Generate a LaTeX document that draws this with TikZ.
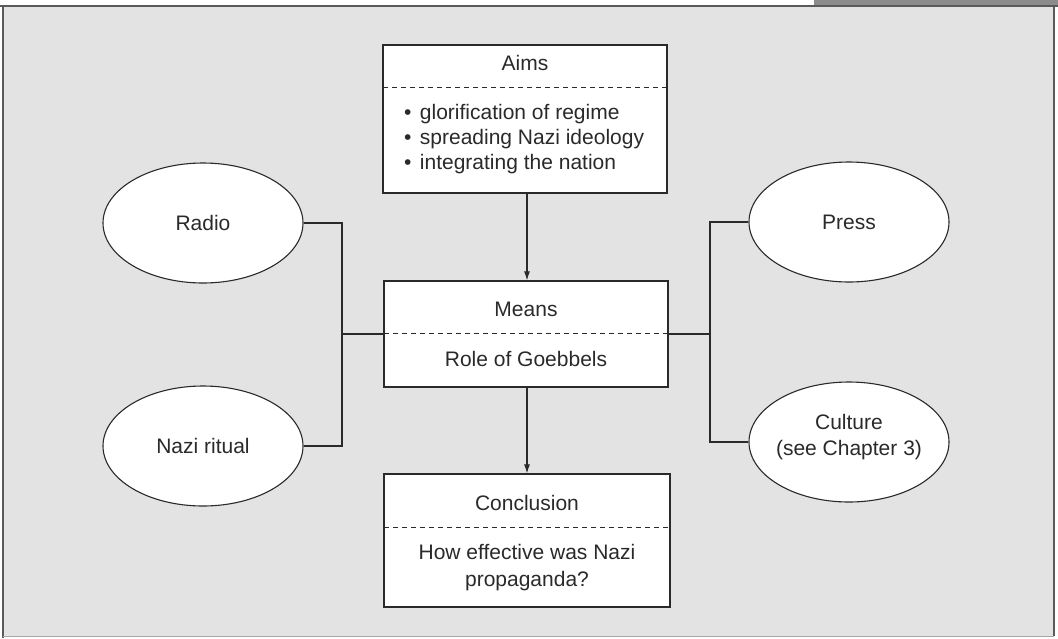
\documentclass[tikz,border=0pt]{standalone}
\usepackage{fontspec}
\setmainfont{Liberation Sans}
\usetikzlibrary{shapes.geometric,arrows.meta}
\definecolor{bggray}{HTML}{E3E3E3}
\definecolor{tabgray}{HTML}{8C8C8C}
\definecolor{framegray}{HTML}{5A5A5A}
\definecolor{ink}{HTML}{2A2A2A}
\tikzset{
  box/.style={draw=ink, fill=white, line width=1.2pt, inner sep=0pt, rectangle},
  oval/.style={draw=ink, fill=white, line width=1.1pt, ellipse, inner sep=0pt, minimum width=200pt, minimum height=120pt},
  lbl/.style={inner sep=0pt, font=\fontsize{21}{25}\selectfont, text=ink, align=center},
  sep/.style={draw=ink, line width=1pt, dash pattern=on 5pt off 4pt},
  link/.style={draw=ink, line width=1.1pt},
  arr/.style={draw=ink, line width=1.1pt, -{Latex[length=9pt,width=6pt]}}
}
\begin{document}
\begin{tikzpicture}[x=1pt,y=-1pt]
\useasboundingbox (0,0) rectangle (1058,638);
\fill[white] (0,0) rectangle (1058,638);
\fill[tabgray] (814,0) rectangle (1058,6);
\fill[bggray] (3,6) rectangle (1054,636);
\draw[framegray, line width=2pt] (0,6) -- (1058,6);
\draw[framegray, line width=1.6pt] (3,6) -- (3,638);
\draw[framegray, line width=1.6pt] (1054,6) -- (1054,636);
\draw[gray!70, line width=0.8pt] (3,636) -- (1054,636);

% boxes
\node[box, minimum width=284pt, minimum height=148pt] (aims) at (525,119) {};
\node[box, minimum width=284pt, minimum height=106pt] (means) at (526,334) {};
\node[box, minimum width=286pt, minimum height=133pt] (concl) at (527,540.5) {};

% separators
\coordinate (aimsL) at (383,87);  \coordinate (aimsR) at (667,87);
\coordinate (meansL) at (384,333); \coordinate (meansR) at (668,333);
\coordinate (conclL) at (384,527); \coordinate (conclR) at (670,527);
\draw[sep] (aimsL) -- (aimsR);
\draw[sep] (meansL) -- (meansR);
\draw[sep] (conclL) -- (conclR);

% texts
\node[lbl] (aimsT) at (525,63) {Aims};
\node[lbl, anchor=west, align=left] (aimsB) at (404,139) {%
  \fontsize{21}{24}\selectfont
  \textbullet\hspace{0.4em}glorification of regime\\
  \textbullet\hspace{0.4em}spreading Nazi ideology\\
  \textbullet\hspace{0.4em}integrating the nation};
\node[lbl] (meansT) at (526,309) {Means};
\node[lbl] (meansB) at (526,359) {Role of Goebbels};
\node[lbl] (conclT) at (527,503) {Conclusion};
\node[lbl, font=\fontsize{21}{27}\selectfont] (conclB) at (527,568) {How effective was Nazi\\propaganda?};

% ovals
\node[oval] (radio) at (203,223) {};
\node[oval] (ritual) at (203,446) {};
\node[oval] (press) at (849,222) {};
\node[oval] (culture) at (849,442) {};
\node[lbl] (radioT) at (radio.center) {Radio};
\node[lbl] (ritualT) at (ritual.center) {Nazi ritual};
\node[lbl] (pressT) at (press.center) {Press};
\node[lbl, font=\fontsize{21}{26}\selectfont] (cultureT) at (849,437) {Culture\\(see Chapter 3)};

% junctions
\coordinate (jl) at (342,334);
\coordinate (jr) at (710,334);

% connectors
\draw[link] (radio.east) -| (jl) |- (ritual.east);
\draw[link] (jl) -- (means.west |- jl);
\draw[link] (press.west) -| (jr) |- (culture.west);
\draw[link] (jr) -- (means.east |- jr);
\draw[arr] (aims.south -| 527,0) -- (means.north -| 527,0);
\draw[arr] (means.south -| 527,0) -- (concl.north -| 527,0);
\end{tikzpicture}
\end{document}
